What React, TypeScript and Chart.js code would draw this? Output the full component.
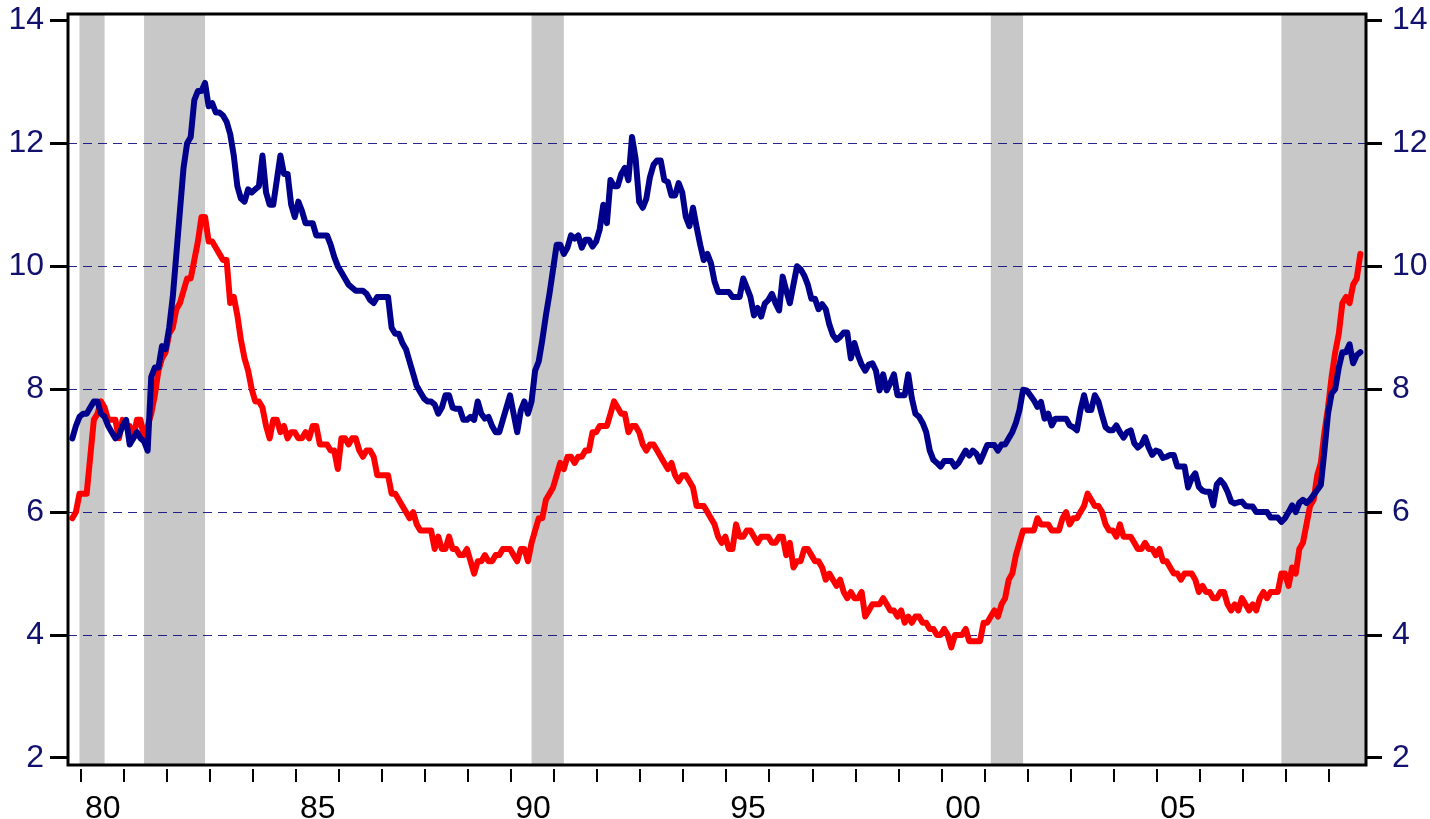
import { useEffect, useRef } from "react";
import { Chart, registerables } from "chart.js";

Chart.register(...registerables);

// Monthly series, first value = November 1979, last = October 2009
const START_YEAR = 1979;
const START_MONTH_INDEX = 10; // November (0-based)

// Blue series (Canada unemployment rate, %)
const blueSeries = [
  7.2, 7.4,
  7.55, 7.6, 7.6, 7.7, 7.8, 7.8, 7.6, 7.55, 7.4, 7.3, 7.2, 7.25,
  7.4, 7.5, 7.1, 7.2, 7.3, 7.2, 7.15, 7.0, 8.2, 8.35, 8.35, 8.7,
  8.65, 9.0, 9.5, 10.2, 10.9, 11.6, 12.0, 12.1, 12.7, 12.85, 12.85, 12.98,
  12.6, 12.65, 12.5, 12.5, 12.45, 12.35, 12.15, 11.8, 11.3, 11.1, 11.05, 11.25,
  11.2, 11.25, 11.3, 11.8, 11.2, 11.0, 11.0, 11.4, 11.8, 11.5, 11.5, 11.0,
  10.8, 11.05, 10.9, 10.7, 10.7, 10.7, 10.5, 10.5, 10.5, 10.5, 10.35, 10.15,
  10.0, 9.9, 9.8, 9.7, 9.65, 9.6, 9.6, 9.6, 9.55, 9.45, 9.4, 9.5,
  9.5, 9.5, 9.5, 9.0, 8.9, 8.9, 8.75, 8.65, 8.45, 8.25, 8.05, 7.95,
  7.85, 7.8, 7.8, 7.75, 7.6, 7.7, 7.9, 7.9, 7.7, 7.68, 7.68, 7.5,
  7.5, 7.55, 7.5, 7.8, 7.6, 7.52, 7.55, 7.4, 7.3, 7.3, 7.5, 7.7,
  7.9, 7.6, 7.3, 7.65, 7.8, 7.6, 7.8, 8.3, 8.45, 8.8, 9.2, 9.55,
  9.95, 10.35, 10.35, 10.2, 10.3, 10.5, 10.45, 10.5, 10.3, 10.43, 10.43, 10.32,
  10.4, 10.6, 11.0, 10.7, 11.4, 11.3, 11.3, 11.5, 11.6, 11.4, 12.1, 11.75,
  11.05, 10.95, 11.1, 11.45, 11.65, 11.72, 11.72, 11.4, 11.37, 11.15, 11.15, 11.35,
  11.2, 10.8, 10.65, 10.95, 10.64, 10.35, 10.1, 10.2, 10.05, 9.75, 9.58, 9.58,
  9.58, 9.58, 9.5, 9.5, 9.5, 9.8, 9.65, 9.5, 9.2, 9.32, 9.18, 9.39,
  9.45, 9.55, 9.4, 9.28, 9.83, 9.6, 9.4, 9.7, 10.0, 9.95, 9.85, 9.7,
  9.47, 9.47, 9.3, 9.38, 9.3, 9.05, 8.88, 8.8, 8.85, 8.92, 8.92, 8.5,
  8.75, 8.55, 8.4, 8.3, 8.4, 8.42, 8.3, 7.98, 8.24, 7.98, 8.1, 8.24,
  7.9, 7.9, 7.9, 8.24, 7.85, 7.6, 7.55, 7.45, 7.3, 7.0, 6.85, 6.8,
  6.74, 6.83, 6.83, 6.83, 6.74, 6.8, 6.9, 7.0, 6.92, 7.0, 6.95, 6.82,
  6.95, 7.09, 7.09, 7.09, 7.0, 7.1, 7.1, 7.2, 7.3, 7.45, 7.66, 7.99,
  7.98, 7.9, 7.82, 7.71, 7.79, 7.52, 7.6, 7.41, 7.52, 7.52, 7.52, 7.52,
  7.41, 7.38, 7.33, 7.66, 7.9, 7.66, 7.66, 7.9, 7.8, 7.58, 7.38, 7.33,
  7.33, 7.41, 7.3, 7.21, 7.3, 7.33, 7.12, 7.05, 7.1, 7.22, 7.05, 6.93,
  7.0, 6.98, 6.88, 6.9, 6.93, 6.93, 6.74, 6.74, 6.74, 6.4, 6.55, 6.63,
  6.41, 6.35, 6.33, 6.33, 6.11, 6.45, 6.52, 6.45, 6.33, 6.17, 6.14, 6.16,
  6.17, 6.1, 6.09, 6.09, 6.0, 6.0, 6.0, 6.0, 5.91, 5.91, 5.91, 5.84,
  5.9, 6.0, 6.11, 6.0, 6.15, 6.2, 6.15, 6.2, 6.28, 6.36, 6.44, 7.0,
  7.6, 7.93, 8.0, 8.35, 8.6, 8.6, 8.73, 8.42, 8.55, 8.6,
];

// Red series (US unemployment rate, %)
const redSeries = [
  5.9, 6.0,
  6.3, 6.3, 6.3, 6.9, 7.5, 7.6, 7.8, 7.7, 7.5, 7.5, 7.5, 7.2,
  7.5, 7.4, 7.4, 7.2, 7.5, 7.5, 7.2, 7.4, 7.6, 7.9, 8.3, 8.5,
  8.6, 8.9, 9.0, 9.3, 9.4, 9.6, 9.8, 9.8, 10.1, 10.4, 10.8, 10.8,
  10.4, 10.4, 10.3, 10.2, 10.1, 10.1, 9.4, 9.5, 9.2, 8.8, 8.5, 8.3,
  8.0, 7.8, 7.8, 7.7, 7.4, 7.2, 7.5, 7.5, 7.3, 7.4, 7.2, 7.3,
  7.3, 7.2, 7.2, 7.3, 7.2, 7.4, 7.4, 7.1, 7.1, 7.1, 7.0, 7.0,
  6.7, 7.2, 7.2, 7.1, 7.2, 7.2, 7.0, 6.9, 7.0, 7.0, 6.9, 6.6,
  6.6, 6.6, 6.6, 6.3, 6.3, 6.2, 6.1, 6.0, 5.9, 6.0, 5.8, 5.7,
  5.7, 5.7, 5.7, 5.4, 5.6, 5.4, 5.4, 5.6, 5.4, 5.4, 5.3, 5.3,
  5.4, 5.2, 5.0, 5.2, 5.2, 5.3, 5.2, 5.2, 5.3, 5.3, 5.4, 5.4,
  5.4, 5.3, 5.2, 5.4, 5.4, 5.2, 5.5, 5.7, 5.9, 5.9, 6.2, 6.3,
  6.4, 6.6, 6.8, 6.7, 6.9, 6.9, 6.8, 6.9, 6.9, 7.0, 7.0, 7.3,
  7.3, 7.4, 7.4, 7.4, 7.6, 7.8, 7.7, 7.6, 7.6, 7.3, 7.4, 7.4,
  7.3, 7.1, 7.0, 7.1, 7.1, 7.0, 6.9, 6.8, 6.7, 6.8, 6.6, 6.5,
  6.6, 6.6, 6.5, 6.4, 6.1, 6.1, 6.1, 6.0, 5.9, 5.8, 5.6, 5.5,
  5.6, 5.4, 5.4, 5.8, 5.6, 5.6, 5.7, 5.7, 5.6, 5.5, 5.6, 5.6,
  5.6, 5.5, 5.5, 5.6, 5.6, 5.3, 5.5, 5.1, 5.2, 5.2, 5.4, 5.4,
  5.3, 5.2, 5.2, 5.1, 4.9, 5.0, 4.9, 4.8, 4.9, 4.7, 4.6, 4.7,
  4.6, 4.6, 4.7, 4.3, 4.4, 4.5, 4.5, 4.5, 4.6, 4.5, 4.4, 4.4,
  4.3, 4.4, 4.2, 4.3, 4.2, 4.3, 4.3, 4.2, 4.2, 4.1, 4.1, 4.0,
  4.0, 4.1, 4.0, 3.8, 4.0, 4.0, 4.0, 4.1, 3.9, 3.9, 3.9, 3.9,
  4.2, 4.2, 4.3, 4.4, 4.3, 4.5, 4.6, 4.9, 5.0, 5.3, 5.5, 5.7,
  5.7, 5.7, 5.7, 5.9, 5.8, 5.8, 5.8, 5.7, 5.7, 5.7, 5.9, 6.0,
  5.8, 5.9, 5.9, 6.0, 6.1, 6.3, 6.2, 6.1, 6.1, 6.0, 5.8, 5.7,
  5.7, 5.6, 5.8, 5.6, 5.6, 5.6, 5.5, 5.4, 5.4, 5.5, 5.4, 5.4,
  5.3, 5.4, 5.2, 5.2, 5.1, 5.0, 5.0, 4.9, 5.0, 5.0, 5.0, 4.9,
  4.7, 4.8, 4.7, 4.7, 4.6, 4.6, 4.7, 4.7, 4.5, 4.4, 4.5, 4.4,
  4.6, 4.5, 4.4, 4.5, 4.4, 4.6, 4.7, 4.6, 4.7, 4.7, 4.7, 5.0,
  5.0, 4.8, 5.1, 5.0, 5.4, 5.5, 5.8, 6.1, 6.2, 6.6, 6.8, 7.3,
  7.7, 8.2, 8.6, 8.9, 9.4, 9.5, 9.4, 9.7, 9.8, 10.2,
];

// Recession shading (fractional years)
const recessionStarts = [1980.0, 1981.5, 1990.5, 2001.1667, 2007.9167];
const recessionEnds = [1980.5833, 1982.9167, 1991.25, 2001.9167, 2009.95];

// Axes
const yTickValues = [2, 4, 6, 8, 10, 12, 14];
const yGridValues = [4, 6, 8, 10, 12];
const yearTickValues = [
  1980, 1981, 1982, 1983, 1984, 1985, 1986, 1987, 1988, 1989,
  1990, 1991, 1992, 1993, 1994, 1995, 1996, 1997, 1998, 1999,
  2000, 2001, 2002, 2003, 2004, 2005, 2006, 2007, 2008, 2009,
];
const xLabelValues = [1980.5, 1985.5, 1990.5, 1995.5, 2000.5, 2005.5];
const xLabelTexts = ["80", "85", "90", "95", "00", "05"];

const Y_MIN = 1.886;
const Y_MAX = 14.102;
const X_DATA_MIN = 1979.733;
const X_DATA_MAX = 2009.882;
const X_TICK_MIN = 1979.691;
const X_TICK_MAX = 2009.868;

const LABEL_FONT = "'Liberation Sans', Arial, sans-serif";
const LABEL_NAVY = "#12126e";

const monthValues = redSeries.map((_, i) => START_YEAR + (START_MONTH_INDEX + i) / 12);

const framePlugin = {
  id: "frameAndShading",
  beforeDatasetsDraw(chart: any) {
    const { ctx, chartArea: a, scales } = chart;
    const x = scales.x;
    const y = scales.y;
    ctx.save();
    ctx.fillStyle = "#c8c8c8";
    recessionStarts.forEach((s: number, i: number) => {
      const x0 = Math.max(a.left, x.getPixelForValue(s));
      const x1 = Math.min(a.right, x.getPixelForValue(recessionEnds[i]));
      ctx.fillRect(x0, a.top, x1 - x0, a.bottom - a.top);
    });
    ctx.strokeStyle = "rgba(0,0,120,0.85)";
    ctx.lineWidth = 1;
    ctx.setLineDash([9, 6]);
    yGridValues.forEach((v: number) => {
      const py = Math.round(y.getPixelForValue(v)) + 0.5;
      ctx.beginPath();
      ctx.moveTo(a.left, py);
      ctx.lineTo(a.right, py);
      ctx.stroke();
    });
    ctx.restore();
  },
  afterDatasetsDraw(chart: any) {
    const { ctx, chartArea: a, scales } = chart;
    const xt = scales.xt;
    ctx.save();
    ctx.setLineDash([]);
    ctx.strokeStyle = "#000";
    ctx.lineWidth = 3;
    ctx.strokeRect(a.left, a.top, a.right - a.left, a.bottom - a.top);
    ctx.lineWidth = 2;
    yearTickValues.forEach((yr: number) => {
      const px = Math.round(xt.getPixelForValue(yr));
      ctx.beginPath();
      ctx.moveTo(px, a.bottom + 4);
      ctx.lineTo(px, a.bottom + 17);
      ctx.stroke();
    });
    ctx.restore();
  },
};

export default function App() {
  const canvasRef = useRef<HTMLCanvasElement | null>(null);

  useEffect(() => {
    if (!canvasRef.current) return;
    const yAxisBase = (side: "left" | "right") => ({
      type: "linear" as const,
      position: side,
      min: Y_MIN,
      max: Y_MAX,
      afterBuildTicks: (scale: any) => {
        scale.ticks = yTickValues.map((v) => ({ value: v }));
      },
      afterFit: (scale: any) => {
        scale.width = side === "left" ? 68 : 64;
        scale.paddingTop = 0;
        scale.paddingBottom = 0;
      },
      grid: {
        display: true,
        drawOnChartArea: false,
        drawTicks: true,
        tickLength: side === "left" ? 18 : 16,
        tickColor: "#000",
        tickWidth: 3,
      },
      border: { display: false },
      ticks: {
        color: LABEL_NAVY,
        padding: side === "left" ? 6 : 10,
        font: { family: LABEL_FONT, size: 32 },
      },
    });

    const chart = new Chart(canvasRef.current, {
      type: "line",
      data: {
        labels: monthValues,
        datasets: [
          {
            label: "Blue",
            data: monthValues.map((m, i) => ({ x: m, y: blueSeries[i] })),
            borderColor: "#00008c",
            borderWidth: 6,
            pointRadius: 0,
            tension: 0,
            borderJoinStyle: "round",
            borderCapStyle: "round",
            xAxisID: "x",
            yAxisID: "y",
          },
          {
            label: "Red",
            data: monthValues.map((m, i) => ({ x: m, y: redSeries[i] })),
            borderColor: "#ff0000",
            borderWidth: 6,
            pointRadius: 0,
            tension: 0,
            borderJoinStyle: "round",
            borderCapStyle: "round",
            xAxisID: "x",
            yAxisID: "y",
          },
        ],
      },
      options: {
        animation: false,
        responsive: false,
        devicePixelRatio: 1,
        layout: { padding: { top: 14, left: 0, right: 0, bottom: 0 } },
        plugins: {
          legend: { display: false },
          tooltip: { enabled: false },
          title: { display: false },
        },
        scales: {
          x: {
            type: "linear",
            display: false,
            min: X_DATA_MIN,
            max: X_DATA_MAX,
          },
          xt: {
            type: "linear",
            position: "bottom",
            min: X_TICK_MIN,
            max: X_TICK_MAX,
            afterBuildTicks: (scale: any) => {
              scale.ticks = xLabelValues.map((v) => ({ value: v }));
            },
            afterFit: (scale: any) => {
              scale.height = 54;
              scale.paddingLeft = 0;
              scale.paddingRight = 0;
            },
            grid: { display: false },
            border: { display: false },
            ticks: {
              color: "#000",
              padding: 17,
              maxRotation: 0,
              autoSkip: false,
              font: { family: LABEL_FONT, size: 32 },
              callback: (_v: any, index: number) => xLabelTexts[index],
            },
          },
          y: yAxisBase("left"),
          y2: yAxisBase("right"),
        },
      },
      plugins: [framePlugin],
    } as any);
    return () => chart.destroy();
  }, []);

  return (
    <canvas
      ref={canvasRef}
      width={1430}
      height={819}
      style={{ position: "fixed", left: 0, top: 0, width: 1430, height: 819 }}
    />
  );
}
